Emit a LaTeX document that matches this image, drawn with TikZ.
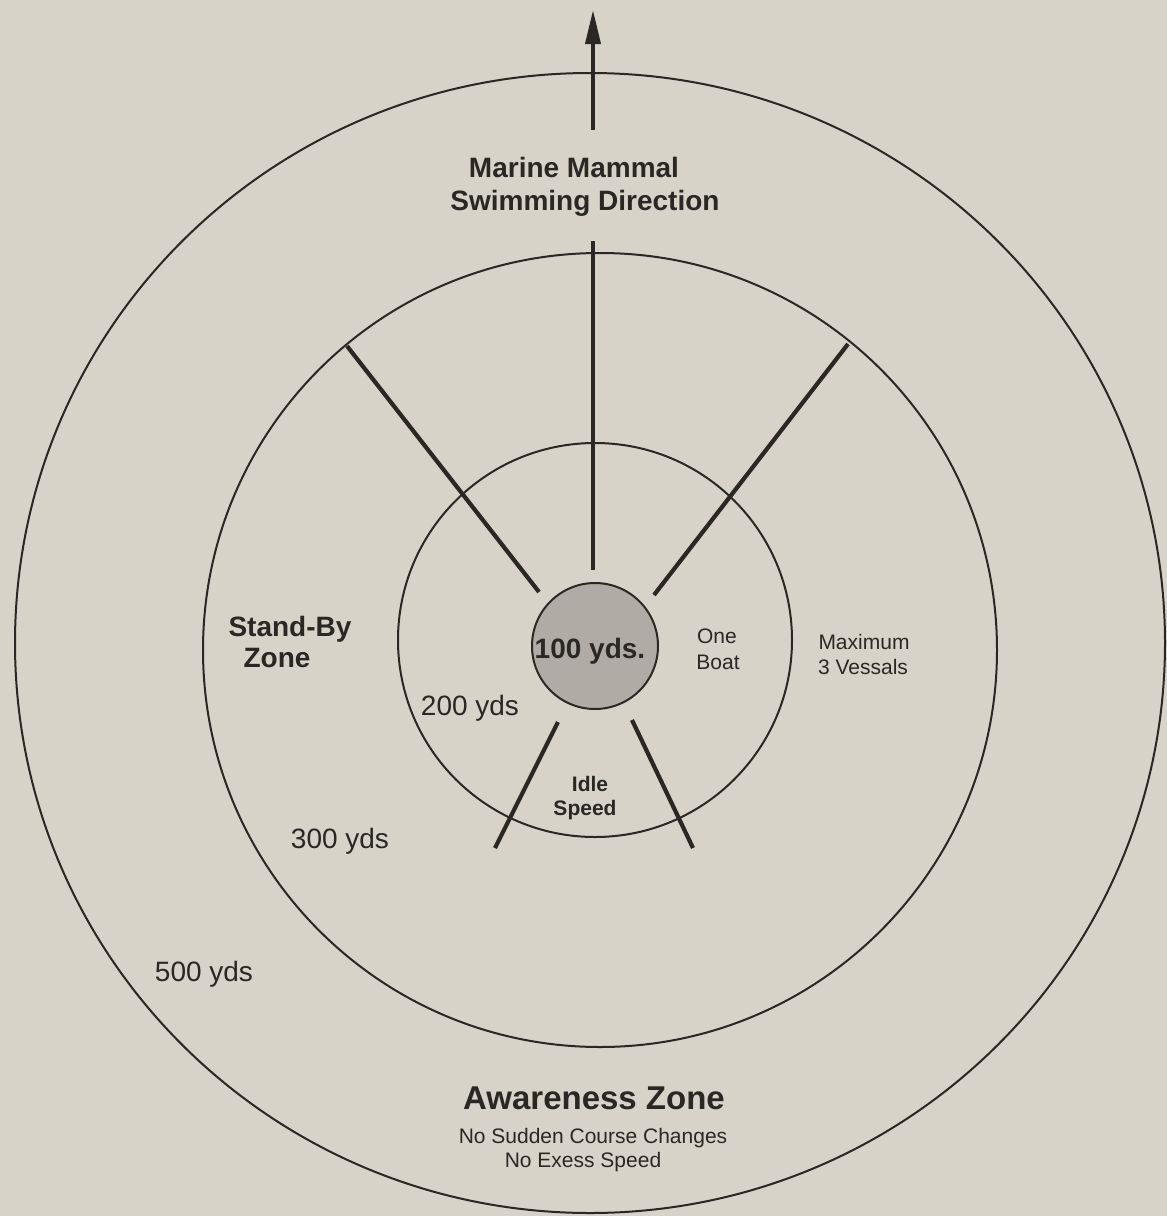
\documentclass[tikz,border=0pt]{standalone}
\usepackage{fontspec}
\setmainfont{Liberation Sans}
\usetikzlibrary{arrows.meta}
\definecolor{paper}{RGB}{215,211,200}
\definecolor{ink}{RGB}{42,40,37}
\definecolor{shade}{RGB}{176,172,165}
\tikzset{
  ring/.style={draw=ink, line width=2pt},
  spoke/.style={draw=ink, line width=4.2pt},
  lbl/.style={anchor=base, inner sep=0pt, text=ink, font=\fontsize{28}{30}\selectfont},
  blbl/.style={lbl, font=\fontsize{28}{30}\selectfont\bfseries},
  slbl/.style={lbl, font=\fontsize{21}{23}\selectfont},
  sblbl/.style={lbl, font=\fontsize{21}{23}\selectfont\bfseries},
  biglbl/.style={lbl, font=\fontsize{33}{35}\selectfont\bfseries}
}
\begin{document}
\begin{tikzpicture}[x=1pt,y=-1pt]
\fill[paper] (0,0) rectangle (1167,1216);
\useasboundingbox (0,0) rectangle (1167,1216);
% circles
\draw[ring] (590,643) ellipse [x radius=575pt, y radius=570pt];
\draw[ring] (600,650) circle [radius=397pt];
\draw[ring] (595,640) circle [radius=197pt];
\draw[ring, fill=shade] (595,646) circle [radius=63pt];
% spoke end points
\coordinate (ulo) at (347,346);
\coordinate (uli) at (539,592);
\coordinate (uro) at (848,344);
\coordinate (uri) at (654,595);
\coordinate (llo) at (495,848);
\coordinate (lli) at (558,722);
\coordinate (lro) at (693,848);
\coordinate (lri) at (632,720);
\coordinate (vt) at (593,241);
\coordinate (vb) at (593,570);
\coordinate (as) at (593,130);
\coordinate (at) at (593,10);
\draw[spoke] (ulo) -- (uli);
\draw[spoke] (uro) -- (uri);
\draw[spoke] (llo) -- (lli);
\draw[spoke] (lro) -- (lri);
\draw[draw=ink, line width=3.6pt] (vt) -- (vb);
\draw[draw=ink, line width=3.8pt, -{Triangle[width=15pt,length=34pt]}] (as) -- (at);
% labels
\node[blbl] (mm1) at (574,177) {Marine Mammal};
\node[blbl] (mm2) at (585,210) {Swimming Direction};
\node[blbl] (sb1) at (290,636) {Stand-By};
\node[blbl] (sb2) at (277,667) {Zone};
\node[blbl] (c100) at (590,658) {100 yds.};
\node[slbl] (ob1) at (717,643) {One};
\node[slbl] (ob2) at (718,669) {Boat};
\node[slbl] (mx1) at (864,649) {Maximum};
\node[slbl] (mx2) at (863,674) {3 Vessals};
\node[lbl] (y200) at (470,715) {200 yds};
\node[sblbl] (is1) at (590,791) {Idle};
\node[sblbl] (is2) at (585,815) {Speed};
\node[lbl] (y300) at (340,848) {300 yds};
\node[lbl] (y500) at (204,981) {500 yds};
\node[biglbl] (az) at (594,1109) {Awareness Zone};
\node[slbl] (az1) at (593,1143) {No Sudden Course Changes};
\node[slbl] (az2) at (583,1167) {No Exess Speed};
\end{tikzpicture}
\end{document}
